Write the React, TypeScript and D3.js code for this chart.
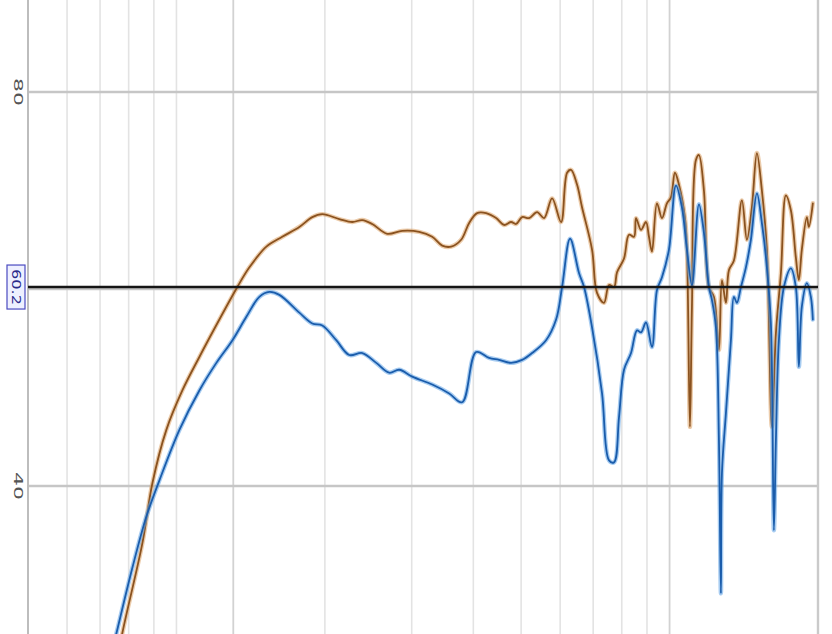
import React from "react";
import * as d3 from "d3";

const W = 832;
const H = 634;

// Frequency grid (Hz) and level grid (dB)
const freqDomain = [50, 2000];
const freqGrid = [60, 70, 80, 90, 100, 200, 300, 400, 500, 600, 700, 800, 900];
const freqMajor = [130.4, 1000];
const dbGrid = [40, 60, 80];
const dbLabels = ["80", "40"];
const refLevel = 60.2;
const refLabel = "60.2";

// Orange (upper) trace: [Hz, dB]
const seriesA: [number, number][] = [
  [74.2, 19.8], [77.7, 25.1], [85.3, 34.2], [89.4, 40.3], [95.4, 45.7], [102.8, 49.7],
  [111.3, 53.1], [122.2, 56.9], [132.9, 60.2], [140.6, 62.2], [152.2, 64.3], [163.9, 65.3],
  [177.5, 66.3], [188.6, 67.3], [197.6, 67.6], [213.9, 67.1], [227.3, 66.8], [238.2, 67.0],
  [249.5, 66.6], [267.6, 65.6], [287.0, 65.9], [310.7, 65.8], [330.1, 65.3], [345.9, 64.4],
  [360.7, 64.3], [377.9, 65.0], [392.3, 66.7], [407.2, 67.7], [424.6, 67.7], [444.9, 67.2],
  [461.8, 66.5], [477.1, 66.8], [488.4, 66.6], [502.3, 67.3], [519.0, 67.2], [538.7, 67.8],
  [556.6, 67.2], [577.8, 69.2], [602.6, 66.8], [619.7, 71.8], [631.3, 72.1], [649.2, 70.6],
  [664.5, 68.3], [696.3, 64.0], [712.7, 59.6], [736.4, 58.6], [753.8, 60.4], [771.6, 60.2],
  [782.5, 61.7], [808.5, 63.1], [827.5, 65.5], [847.1, 65.3], [855.1, 67.2], [875.2, 66.0],
  [895.8, 66.8], [908.4, 65.3], [921.2, 63.8], [943.0, 68.7], [965.2, 67.2], [987.9, 68.7],
  [1006.5, 69.3], [1025.4, 71.8], [1044.7, 70.6], [1074.6, 67.2], [1084.6, 64.0], [1099.8, 46.0],
  [1110.2, 58.2], [1131.1, 73.1], [1147.0, 73.6], [1174.1, 70.0], [1201.8, 60.2], [1230.3, 59.2],
  [1259.3, 53.8], [1277.1, 60.9], [1301.1, 58.6], [1319.4, 61.9], [1350.6, 62.9], [1402.0, 69.0],
  [1435.0, 65.0], [1468.8, 68.3], [1503.6, 73.8], [1539.0, 70.0], [1575.3, 64.0], [1612.6, 46.0],
  [1643.1, 55.5], [1681.9, 61.6], [1721.5, 69.5], [1762.0, 68.0], [1803.5, 63.2], [1829.0, 60.9],
  [1854.6, 64.0], [1898.6, 67.3], [1916.4, 66.3], [1952.4, 68.7],
];

// Blue (lower) trace: [Hz, dB]
const seriesB: [number, number][] = [
  [72.5, 21.3], [75.6, 25.1], [81.5, 31.8], [86.9, 36.9], [92.4, 40.6], [101.4, 45.7],
  [111.3, 49.7], [120.5, 52.5], [129.9, 54.8], [138.7, 57.2], [147.3, 59.2], [154.3, 59.7],
  [161.7, 59.4], [177.5, 57.6], [188.6, 56.5], [197.6, 56.3], [210.9, 54.8], [224.1, 53.3],
  [238.2, 53.5], [254.2, 52.5], [270.1, 51.5], [283.0, 51.8], [300.8, 51.1], [330.1, 50.3],
  [357.3, 49.4], [379.7, 48.5], [405.3, 53.6], [430.6, 53.0], [451.2, 52.8], [477.1, 52.5],
  [502.3, 52.8], [526.3, 53.5], [561.8, 54.8], [588.7, 56.9], [605.4, 60.2], [628.4, 65.1],
  [655.4, 61.6], [670.8, 60.2], [696.3, 56.1], [729.6, 49.4], [753.8, 42.6], [771.6, 42.4],
  [789.8, 47.0], [808.5, 51.8], [835.3, 53.5], [859.0, 55.8], [875.2, 55.6], [895.8, 56.6],
  [921.2, 54.1], [943.0, 59.9], [965.2, 61.2], [997.2, 64.0], [1030.3, 70.5], [1059.5, 68.3],
  [1084.6, 64.0], [1110.2, 60.4], [1147.0, 68.6], [1174.1, 65.7], [1201.8, 60.2], [1218.7, 58.9],
  [1241.7, 56.1], [1259.3, 44.7], [1271.0, 29.1], [1277.1, 41.3], [1301.1, 47.4], [1331.8, 54.8],
  [1350.6, 59.2], [1369.7, 58.6], [1395.5, 60.2], [1428.4, 62.2], [1462.0, 65.0], [1503.6, 69.7],
  [1539.0, 66.7], [1575.3, 62.2], [1605.0, 56.5], [1627.7, 35.5], [1643.1, 44.7], [1666.2, 54.8],
  [1705.7, 60.2], [1762.0, 62.1], [1803.5, 60.2], [1829.0, 52.1], [1854.6, 58.2], [1898.6, 60.6],
  [1934.5, 59.2], [1952.4, 56.9],
];

export default function App() {
  const x = d3.scaleLog().domain(freqDomain).range([28, 818]);
  const y = d3.scaleLinear().domain([40, 80]).range([486, 92]);

  const line = d3
    .line<[number, number]>()
    .x((d) => x(d[0]))
    .y((d) => y(d[1]))
    .curve(d3.curveCatmullRom.alpha(0.5));

  const pathA = line(seriesA) || "";
  const pathB = line(seriesB) || "";
  const [x0, x1] = x.range();

  const labelVals = dbLabels.map((s) => +s);

  return (
    <svg
      width={W}
      height={H}
      style={{ position: "absolute", left: 0, top: 0, background: "#fff" }}
      fontFamily="'DejaVu Sans', sans-serif"
    >
      <rect x={0} y={0} width={W} height={H} fill="#fff" />
      <defs>
        <clipPath id="plot">
          <rect x={x0} y={0} width={x1 - x0} height={H} />
        </clipPath>
      </defs>
      {freqGrid.map((f) => (
        <line key={"v" + f} x1={x(f)} x2={x(f)} y1={0} y2={H} stroke="#e3e3e3" strokeWidth={1.6} />
      ))}
      {freqMajor.map((f) => (
        <line key={"m" + f} x1={x(f)} x2={x(f)} y1={0} y2={H} stroke="#d2d2d2" strokeWidth={1.8} />
      ))}
      {dbGrid.map((v) => (
        <line key={"h" + v} x1={x0} x2={x1} y1={y(v)} y2={y(v)} stroke="#c6c6c6" strokeWidth={2.6} />
      ))}
      <line x1={x0} x2={x0} y1={0} y2={H} stroke="#bdbdbd" strokeWidth={2} />
      <line x1={x1} x2={x1} y1={0} y2={H} stroke="#cacaca" strokeWidth={2.4} />

      <g clipPath="url(#plot)" fill="none" strokeLinejoin="round" strokeLinecap="round">
        <path d={pathA} stroke="#dca266" strokeOpacity={0.55} strokeWidth={4.4} />
        <path d={pathA} stroke="#8a521f" strokeWidth={1.8} />
        <path d={pathB} stroke="#5ea2e6" strokeOpacity={0.55} strokeWidth={4.4} />
        <path d={pathB} stroke="#1a5cab" strokeWidth={1.8} />
      </g>

      <line x1={x0} x2={x1} y1={y(refLevel)} y2={y(refLevel)} stroke="#151515" strokeWidth={2.6} />

      {labelVals.map((v, i) => (
        <text
          key={"l" + v}
          transform={`translate(14, ${y(v)}) rotate(90)`}
          textAnchor="middle"
          fontSize={12}
          fill="#555"
          textLength={28}
          lengthAdjust="spacingAndGlyphs"
        >
          {dbLabels[i]}
        </text>
      ))}
      <rect x={7} y={y(refLevel) - 22} width={18} height={44} fill="#eef0ff" stroke="#4a4ac0" strokeWidth={1.2} />
      <text
        transform={`translate(12, ${y(refLevel)}) rotate(90)`}
        textAnchor="middle"
        fontSize={12}
        fill="#2a2a8a"
        textLength={36}
        lengthAdjust="spacingAndGlyphs"
      >
        {refLabel}
      </text>
    </svg>
  );
}
